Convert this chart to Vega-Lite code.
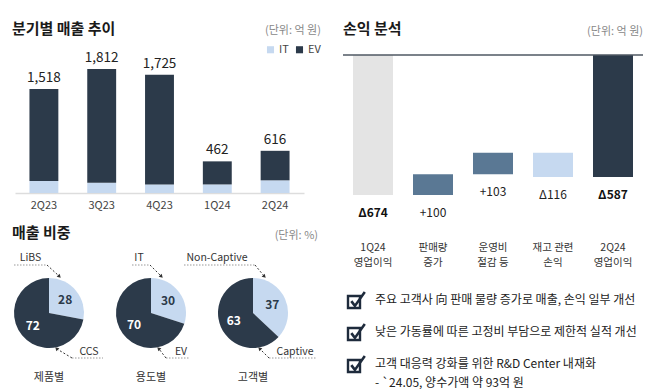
{
"$schema": "https://vega.github.io/schema/vega-lite/v6.json",
"padding": {"left": 12, "top": 21, "right": 0, "bottom": 0},
"config": {"view": {"stroke": null}, "font": "Noto Sans CJK KR",
  "title": {"anchor": "start", "frame": "group", "fontSize": 15, "fontWeight": "bold", "color": "#1a1a1a", "baseline": "bottom", "offset": -12, "dx": -3}},
"spacing": 21,
"resolve": {"scale": {"color": "independent", "theta": "independent"}, "legend": {"color": "independent"}},
"hconcat": [
 {"vconcat": [
  {"width": 289, "height": 138,
   "title": {"text": "분기별 매출 추이"},
   "data": {"values": [
     {"q": "2Q23", "seg": "IT", "v": 175}, {"q": "2Q23", "seg": "EV", "v": 1343},
     {"q": "3Q23", "seg": "IT", "v": 150}, {"q": "3Q23", "seg": "EV", "v": 1662},
     {"q": "4Q23", "seg": "IT", "v": 125}, {"q": "4Q23", "seg": "EV", "v": 1600},
     {"q": "1Q24", "seg": "IT", "v": 125}, {"q": "1Q24", "seg": "EV", "v": 337},
     {"q": "2Q24", "seg": "IT", "v": 185}, {"q": "2Q24", "seg": "EV", "v": 431}]},
   "layer": [
    {"mark": {"type": "bar"},
     "encoding": {
      "x": {"field": "q", "type": "nominal", "sort": null, "scale": {"paddingInner": 0.5, "paddingOuter": 0.25},
            "axis": {"title": null, "labelAngle": 0, "ticks": false, "domainColor": "#dddddd", "domainWidth": 1.5, "labelFontSize": 11, "labelColor": "#444444", "labelPadding": 6}},
      "y": {"field": "v", "type": "quantitative", "stack": "zero", "scale": {"domain": [0, 2015], "nice": false}, "axis": null},
      "color": {"field": "seg", "type": "nominal", "scale": {"domain": ["IT", "EV"], "range": ["#c6d9f0", "#2c3a4a"]},
                "legend": {"title": "(단위: 억 원)", "orient": "none", "legendX": 250, "legendY": -30, "direction": "horizontal",
                           "titleFontSize": 11, "titleColor": "#888888", "titleFontWeight": "normal", "titlePadding": 8,
                           "symbolType": "square", "symbolSize": 50, "symbolStrokeWidth": 0, "labelFontSize": 11, "labelColor": "#444444",
                           "columnPadding": 5, "labelOffset": 3}},
      "order": {"field": "seg", "sort": "descending"}}},
    {"mark": {"type": "text", "baseline": "alphabetic", "dy": -7, "fontSize": 13.5, "color": "#222222"},
     "encoding": {
      "x": {"field": "q", "type": "nominal", "sort": null},
      "y": {"aggregate": "sum", "field": "v", "type": "quantitative"},
      "text": {"aggregate": "sum", "field": "v", "type": "quantitative", "format": ","}}}
   ]},
  {"hconcat": [
    {"width": 68, "height": 70,
     "title": {"text": "제품별", "orient": "bottom", "anchor": "middle", "baseline": "top", "fontSize": 11, "fontWeight": "normal", "color": "#333333", "offset": 13, "dx": 0},
     "data": {"values": [{"name": "LiBS", "v": 28}, {"name": "CCS", "v": 72}]},
     "layer": [
      {"mark": {"type": "arc", "outerRadius": 35},
       "encoding": {"theta": {"field": "v", "type": "quantitative", "stack": true}, "order": {"field": "name", "sort": "descending"},
        "color": {"field": "name", "type": "nominal", "scale": {"domain": ["LiBS", "CCS"], "range": ["#c6d9f0", "#2c3a4a"]}, "legend": null}}},
      {"mark": {"type": "text", "radius": 21, "fontSize": 12, "fontWeight": "bold"},
       "encoding": {"theta": {"field": "v", "type": "quantitative", "stack": true}, "order": {"field": "name", "sort": "descending"},
        "text": {"field": "v", "type": "quantitative"},
        "color": {"condition": {"test": "datum.name === 'CCS'", "value": "#ffffff"}, "value": "#2c3a4a"}}},
      {"transform": [{"filter": "datum.name === 'LiBS'"}],
       "mark": {"type": "text", "align": "center", "baseline": "middle", "fontSize": 10.5, "color": "#333333"},
       "encoding": {"x": {"datum": -18.5, "type": "quantitative", "scale": {"domain": [-34, 34], "nice": false}, "axis": null},
                    "y": {"datum": -55, "type": "quantitative", "scale": {"domain": [-35, 35], "nice": false, "reverse": true}, "axis": null},
                    "text": {"field": "name"}}},
      {"transform": [{"filter": "datum.name === 'CCS'"}],
       "mark": {"type": "text", "align": "center", "baseline": "middle", "fontSize": 10.5, "color": "#333333"},
       "encoding": {"x": {"datum": 40, "type": "quantitative"}, "y": {"datum": 39, "type": "quantitative"}, "text": {"field": "name"}}},
      {"data": {"values": [{}]}, "mark": {"type": "rule", "color": "#999999", "strokeDash": [1.5, 1.5], "strokeWidth": 1},
       "encoding": {"x": {"datum": -35, "type": "quantitative"}, "x2": {"datum": -2}, "y": {"datum": -48, "type": "quantitative"}}},
      {"data": {"values": [{}]}, "mark": {"type": "rule", "color": "#999999", "strokeDash": [1.5, 1.5], "strokeWidth": 1},
       "encoding": {"x": {"datum": 23, "type": "quantitative"}, "x2": {"datum": 54}, "y": {"datum": 45, "type": "quantitative"}}},
      {"data": {"values": [{}]}, "mark": {"type": "rule", "color": "#333333", "strokeDash": [2, 2], "strokeWidth": 1},
       "encoding": {"x": {"datum": -2, "type": "quantitative"}, "x2": {"datum": 10}, "y": {"datum": -48, "type": "quantitative"}, "y2": {"datum": -37}}},
      {"data": {"values": [{}]}, "mark": {"type": "rule", "color": "#333333", "strokeDash": [2, 2], "strokeWidth": 1},
       "encoding": {"x": {"datum": 23, "type": "quantitative"}, "x2": {"datum": 8}, "y": {"datum": 45, "type": "quantitative"}, "y2": {"datum": 36}}},
      {"data": {"values": [{}]}, "mark": {"type": "point", "shape": "triangle", "filled": true, "size": 18, "color": "#333333", "opacity": 1, "angle": 135},
       "encoding": {"x": {"datum": 10, "type": "quantitative"}, "y": {"datum": -37, "type": "quantitative"}}},
      {"data": {"values": [{}]}, "mark": {"type": "point", "shape": "triangle", "filled": true, "size": 18, "color": "#333333", "opacity": 1, "angle": 315},
       "encoding": {"x": {"datum": 8, "type": "quantitative"}, "y": {"datum": 36, "type": "quantitative"}}}
     ]},
    {"width": 68, "height": 70,
     "title": {"text": "용도별", "orient": "bottom", "anchor": "middle", "baseline": "top", "fontSize": 11, "fontWeight": "normal", "color": "#333333", "offset": 13, "dx": 0},
     "data": {"values": [{"name": "IT", "v": 30}, {"name": "EV", "v": 70}]},
     "layer": [
      {"mark": {"type": "arc", "outerRadius": 35},
       "encoding": {"theta": {"field": "v", "type": "quantitative", "stack": true}, "order": {"field": "name", "sort": "descending"},
        "color": {"field": "name", "type": "nominal", "scale": {"domain": ["IT", "EV"], "range": ["#c6d9f0", "#2c3a4a"]}, "legend": null}}},
      {"mark": {"type": "text", "radius": 21, "fontSize": 12, "fontWeight": "bold"},
       "encoding": {"theta": {"field": "v", "type": "quantitative", "stack": true}, "order": {"field": "name", "sort": "descending"},
        "text": {"field": "v", "type": "quantitative"},
        "color": {"condition": {"test": "datum.name === 'EV'", "value": "#ffffff"}, "value": "#2c3a4a"}}},
      {"transform": [{"filter": "datum.name === 'IT'"}],
       "mark": {"type": "text", "align": "center", "baseline": "middle", "fontSize": 10.5, "color": "#333333"},
       "encoding": {"x": {"datum": -12, "type": "quantitative", "scale": {"domain": [-34, 34], "nice": false}, "axis": null},
                    "y": {"datum": -55, "type": "quantitative", "scale": {"domain": [-35, 35], "nice": false, "reverse": true}, "axis": null},
                    "text": {"field": "name"}}},
      {"transform": [{"filter": "datum.name === 'EV'"}],
       "mark": {"type": "text", "align": "center", "baseline": "middle", "fontSize": 10.5, "color": "#333333"},
       "encoding": {"x": {"datum": 30, "type": "quantitative"}, "y": {"datum": 39, "type": "quantitative"}, "text": {"field": "name"}}},
      {"data": {"values": [{}]}, "mark": {"type": "rule", "color": "#999999", "strokeDash": [1.5, 1.5], "strokeWidth": 1},
       "encoding": {"x": {"datum": -19, "type": "quantitative"}, "x2": {"datum": -1}, "y": {"datum": -48, "type": "quantitative"}}},
      {"data": {"values": [{}]}, "mark": {"type": "rule", "color": "#999999", "strokeDash": [1.5, 1.5], "strokeWidth": 1},
       "encoding": {"x": {"datum": 15, "type": "quantitative"}, "x2": {"datum": 38}, "y": {"datum": 45, "type": "quantitative"}}},
      {"data": {"values": [{}]}, "mark": {"type": "rule", "color": "#333333", "strokeDash": [2, 2], "strokeWidth": 1},
       "encoding": {"x": {"datum": -1, "type": "quantitative"}, "x2": {"datum": 10}, "y": {"datum": -48, "type": "quantitative"}, "y2": {"datum": -37}}},
      {"data": {"values": [{}]}, "mark": {"type": "rule", "color": "#333333", "strokeDash": [2, 2], "strokeWidth": 1},
       "encoding": {"x": {"datum": 15, "type": "quantitative"}, "x2": {"datum": 8}, "y": {"datum": 45, "type": "quantitative"}, "y2": {"datum": 36}}},
      {"data": {"values": [{}]}, "mark": {"type": "point", "shape": "triangle", "filled": true, "size": 18, "color": "#333333", "opacity": 1, "angle": 135},
       "encoding": {"x": {"datum": 10, "type": "quantitative"}, "y": {"datum": -37, "type": "quantitative"}}},
      {"data": {"values": [{}]}, "mark": {"type": "point", "shape": "triangle", "filled": true, "size": 18, "color": "#333333", "opacity": 1, "angle": 315},
       "encoding": {"x": {"datum": 8, "type": "quantitative"}, "y": {"datum": 36, "type": "quantitative"}}}
     ]},
    {"width": 68, "height": 70,
     "title": {"text": "고객별", "orient": "bottom", "anchor": "middle", "baseline": "top", "fontSize": 11, "fontWeight": "normal", "color": "#333333", "offset": 13, "dx": 0},
     "data": {"values": [{"name": "Non-Captive", "v": 37}, {"name": "Captive", "v": 63}]},
     "layer": [
      {"mark": {"type": "arc", "outerRadius": 35},
       "encoding": {"theta": {"field": "v", "type": "quantitative", "stack": true}, "order": {"field": "name", "sort": "descending"},
        "color": {"field": "name", "type": "nominal", "scale": {"domain": ["Non-Captive", "Captive"], "range": ["#c6d9f0", "#2c3a4a"]}, "legend": null}}},
      {"mark": {"type": "text", "radius": 21, "fontSize": 12, "fontWeight": "bold"},
       "encoding": {"theta": {"field": "v", "type": "quantitative", "stack": true}, "order": {"field": "name", "sort": "descending"},
        "text": {"field": "v", "type": "quantitative"},
        "color": {"condition": {"test": "datum.name === 'Captive'", "value": "#ffffff"}, "value": "#2c3a4a"}}},
      {"transform": [{"filter": "datum.name === 'Non-Captive'"}],
       "mark": {"type": "text", "align": "center", "baseline": "middle", "fontSize": 10.5, "color": "#333333"},
       "encoding": {"x": {"datum": -36, "type": "quantitative", "scale": {"domain": [-34, 34], "nice": false}, "axis": null},
                    "y": {"datum": -55, "type": "quantitative", "scale": {"domain": [-35, 35], "nice": false, "reverse": true}, "axis": null},
                    "text": {"field": "name"}}},
      {"transform": [{"filter": "datum.name === 'Captive'"}],
       "mark": {"type": "text", "align": "center", "baseline": "middle", "fontSize": 10.5, "color": "#333333"},
       "encoding": {"x": {"datum": 42, "type": "quantitative"}, "y": {"datum": 39, "type": "quantitative"}, "text": {"field": "name"}}},
      {"data": {"values": [{}]}, "mark": {"type": "text", "text": "(단위: %)", "align": "right", "baseline": "middle", "fontSize": 11, "color": "#888888"},
       "encoding": {"x": {"datum": 65, "type": "quantitative"}, "y": {"datum": -77, "type": "quantitative"}}},
      {"data": {"values": [{}]}, "mark": {"type": "rule", "color": "#999999", "strokeDash": [1.5, 1.5], "strokeWidth": 1},
       "encoding": {"x": {"datum": -69, "type": "quantitative"}, "x2": {"datum": 2}, "y": {"datum": -48, "type": "quantitative"}}},
      {"data": {"values": [{}]}, "mark": {"type": "rule", "color": "#999999", "strokeDash": [1.5, 1.5], "strokeWidth": 1},
       "encoding": {"x": {"datum": 16, "type": "quantitative"}, "x2": {"datum": 64}, "y": {"datum": 45, "type": "quantitative"}}},
      {"data": {"values": [{}]}, "mark": {"type": "rule", "color": "#333333", "strokeDash": [2, 2], "strokeWidth": 1},
       "encoding": {"x": {"datum": 2, "type": "quantitative"}, "x2": {"datum": 11}, "y": {"datum": -48, "type": "quantitative"}, "y2": {"datum": -37}}},
      {"data": {"values": [{}]}, "mark": {"type": "rule", "color": "#333333", "strokeDash": [2, 2], "strokeWidth": 1},
       "encoding": {"x": {"datum": 16, "type": "quantitative"}, "x2": {"datum": 7}, "y": {"datum": 45, "type": "quantitative"}, "y2": {"datum": 36}}},
      {"data": {"values": [{}]}, "mark": {"type": "point", "shape": "triangle", "filled": true, "size": 18, "color": "#333333", "opacity": 1, "angle": 135},
       "encoding": {"x": {"datum": 11, "type": "quantitative"}, "y": {"datum": -37, "type": "quantitative"}}},
      {"data": {"values": [{}]}, "mark": {"type": "point", "shape": "triangle", "filled": true, "size": 18, "color": "#333333", "opacity": 1, "angle": 315},
       "encoding": {"x": {"datum": 7, "type": "quantitative"}, "y": {"datum": 36, "type": "quantitative"}}}
     ]}
   ],
   "spacing": 34, "bounds": "flush",
   "title": {"text": "매출 비중", "offset": -11},
   "resolve": {"scale": {"color": "independent", "theta": "independent", "x": "independent", "y": "independent"}, "legend": {"color": "independent"}}}
 ], "spacing": 85, "bounds": "flush",
 "resolve": {"scale": {"color": "independent", "theta": "independent"}, "legend": {"color": "independent"}}},
 {"vconcat": [
  {"width": 300, "height": 182,
   "title": {"text": "손익 분석", "dx": 0, "offset": -11},
   "data": {"values": [
     {"cat": "1Q24|영업이익", "type": "1Q24", "top": 0, "bottom": -674, "label": "Δ674"},
     {"cat": "판매량|증가", "type": "증가", "top": -574, "bottom": -674, "label": "+100"},
     {"cat": "운영비|절감 등", "type": "증가", "top": -471, "bottom": -574, "label": "+103"},
     {"cat": "재고 관련|손익", "type": "감소", "top": -471, "bottom": -587, "label": "Δ116"},
     {"cat": "2Q24|영업이익", "type": "2Q24", "top": 0, "bottom": -587, "label": "Δ587"}]},
   "layer": [
    {"mark": {"type": "bar"},
     "encoding": {
      "x": {"field": "cat", "type": "nominal", "sort": null, "scale": {"paddingInner": 0.3333, "paddingOuter": 0.1667},
            "axis": {"title": null, "labelAngle": 0, "domain": false, "ticks": false, "labelExpr": "split(datum.label, '|')",
                     "labelFontSize": 10.5, "labelColor": "#333333", "labelLineHeight": 15, "labelPadding": 5}},
      "y": {"field": "top", "type": "quantitative", "scale": {"domain": [-876, 0], "nice": false, "zero": false}, "axis": null},
      "y2": {"field": "bottom"},
      "color": {"field": "type", "type": "nominal", "scale": {"domain": ["1Q24", "증가", "감소", "2Q24"], "range": ["#e4e4e4", "#5a7894", "#c6d9f0", "#2c3a4a"]}, "legend": null}}},
    {"data": {"values": [{}]}, "mark": {"type": "rule", "color": "#4f5963", "strokeWidth": 1.5},
     "encoding": {"y": {"datum": 0, "type": "quantitative"}}},
    {"transform": [{"filter": "datum.type === '증가' || datum.type === '감소'"}],
     "mark": {"type": "text", "baseline": "middle", "dy": 18, "fontSize": 12, "color": "#222222"},
     "encoding": {"x": {"field": "cat", "type": "nominal", "sort": null}, "y": {"field": "bottom", "type": "quantitative"}, "text": {"field": "label"}}},
    {"transform": [{"filter": "datum.type === '1Q24' || datum.type === '2Q24'"}],
     "mark": {"type": "text", "baseline": "middle", "dy": 18, "fontSize": 12, "fontWeight": "bold", "color": "#111111"},
     "encoding": {"x": {"field": "cat", "type": "nominal", "sort": null}, "y": {"field": "bottom", "type": "quantitative"}, "text": {"field": "label"}}},
    {"data": {"values": [{}]}, "mark": {"type": "text", "text": "(단위: 억 원)", "align": "right", "baseline": "middle", "fontSize": 11, "color": "#888888"},
     "encoding": {"x": {"value": "width"}, "y": {"datum": 111, "type": "quantitative"}}}
   ]},
  {"width": 300, "height": 96,
   "data": {"values": [
     {"t": "주요 고객사 向 판매 물량 증가로 매출, 손익 일부 개선"},
     {"t": "낮은 가동률에 따른 고정비 부담으로 제한적 실적 개선"},
     {"t": "고객 대응력 강화를 위한 R&D Center 내재화\n- `24.05, 양수가액 약 93억 원"}]},
   "layer": [
    {"mark": {"type": "point", "shape": "M-1,-1H1V1H-1Z", "filled": false, "size": 144, "color": "#1e2b3c", "strokeWidth": 2.4, "opacity": 1},
     "encoding": {"x": {"datum": 11, "type": "quantitative", "scale": {"domain": [0, 300], "nice": false}, "axis": null},
                  "y": {"field": "t", "type": "nominal", "sort": null, "axis": null}}},
    {"mark": {"type": "point", "shape": "M-0.45,-0.15L0.15,0.65L1.8,-1.65", "filled": false, "size": 144, "color": "#1e2b3c", "strokeWidth": 2.6, "opacity": 1},
     "encoding": {"x": {"datum": 11, "type": "quantitative"}, "y": {"field": "t", "type": "nominal", "sort": null}}},
    {"mark": {"type": "text", "align": "left", "baseline": "alphabetic", "dy": 2, "fontSize": 12, "color": "#222222", "lineBreak": "\n", "lineHeight": 19},
     "encoding": {"x": {"datum": 32, "type": "quantitative"}, "y": {"field": "t", "type": "nominal", "sort": null}, "text": {"field": "t"}}}
   ]}
 ], "spacing": 49, "bounds": "flush",
 "resolve": {"scale": {"color": "independent"}, "legend": {"color": "independent"}}}
]
}
